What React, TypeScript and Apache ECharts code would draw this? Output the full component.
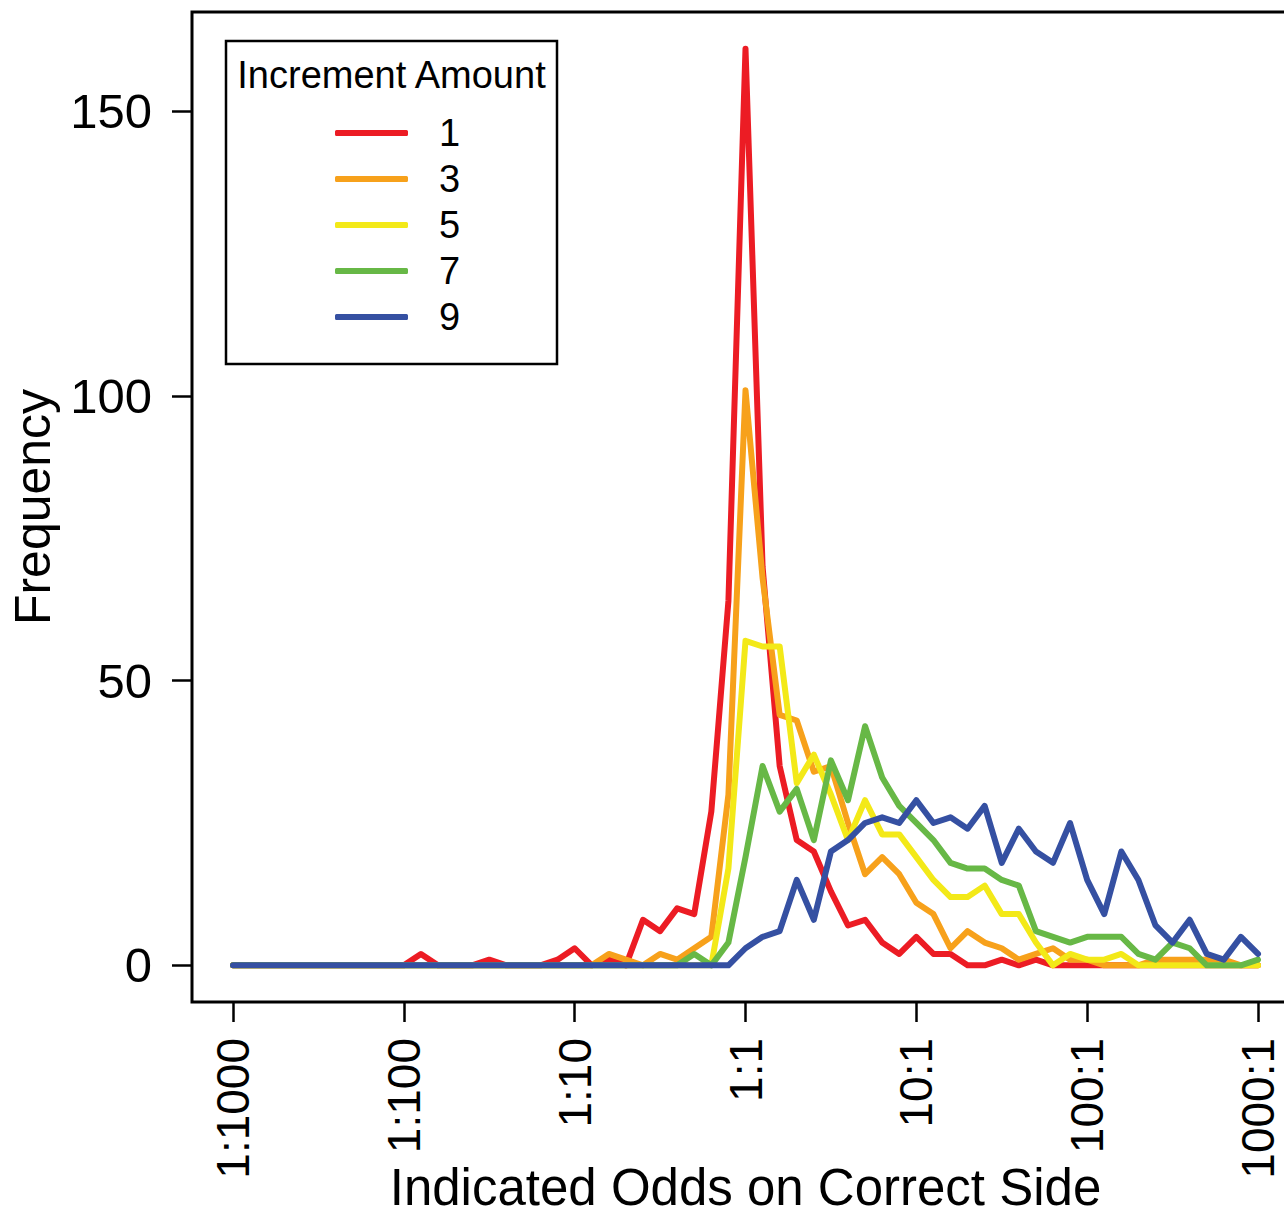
import React, { useEffect, useRef } from "react";
import * as echarts from "echarts";

// Bin centres on a log10 odds scale (1:1000 .. 1000:1), tenth-of-a-decade bins.
const binCenters = [
  -3.0, -2.9, -2.8, -2.7, -2.6, -2.5, -2.4, -2.3, -2.2, -2.1,
  -2.0, -1.9, -1.8, -1.7, -1.6, -1.5, -1.4, -1.3, -1.2, -1.1,
  -1.0, -0.9, -0.8, -0.7, -0.6, -0.5, -0.4, -0.3, -0.2, -0.1,
  0.0, 0.1, 0.2, 0.3, 0.4, 0.5, 0.6, 0.7, 0.8, 0.9,
  1.0, 1.1, 1.2, 1.3, 1.4, 1.5, 1.6, 1.7, 1.8, 1.9,
  2.0, 2.1, 2.2, 2.3, 2.4, 2.5, 2.6, 2.7, 2.8, 2.9,
  3.0,
];

// Frequency per bin for each increment amount.
const freqInc1 = [
  0, 0, 0, 0, 0, 0, 0, 0, 0, 0,
  0, 2, 0, 0, 0, 1, 0, 0, 0, 1,
  3, 0, 1, 0, 8, 6, 10, 9, 27, 64,
  161, 70, 35, 22, 20, 13, 7, 8, 4, 2,
  5, 2, 2, 0, 0, 1, 0, 1, 0, 0,
  0, 0, 0, 0, 0, 0, 0, 0, 0, 0,
  0,
];
const freqInc3 = [
  0, 0, 0, 0, 0, 0, 0, 0, 0, 0,
  0, 0, 0, 0, 0, 0, 0, 0, 0, 0,
  0, 0, 2, 1, 0, 2, 1, 3, 5, 30,
  101, 68, 44, 43, 34, 35, 25, 16, 19, 16,
  11, 9, 3, 6, 4, 3, 1, 2, 3, 1,
  1, 0, 0, 0, 1, 1, 1, 1, 1, 0,
  0,
];
const freqInc5 = [
  0, 0, 0, 0, 0, 0, 0, 0, 0, 0,
  0, 0, 0, 0, 0, 0, 0, 0, 0, 0,
  0, 0, 0, 0, 0, 0, 0, 0, 0, 17,
  57, 56, 56, 32, 37, 30, 22, 29, 23, 23,
  19, 15, 12, 12, 14, 9, 9, 4, 0, 2,
  1, 1, 2, 0, 0, 0, 0, 0, 0, 0,
  0,
];
const freqInc7 = [
  0, 0, 0, 0, 0, 0, 0, 0, 0, 0,
  0, 0, 0, 0, 0, 0, 0, 0, 0, 0,
  0, 0, 0, 0, 0, 0, 0, 2, 0, 4,
  19, 35, 27, 31, 22, 36, 29, 42, 33, 28,
  25, 22, 18, 17, 17, 15, 14, 6, 5, 4,
  5, 5, 5, 2, 1, 4, 3, 0, 0, 0,
  1,
];
const freqInc9 = [
  0, 0, 0, 0, 0, 0, 0, 0, 0, 0,
  0, 0, 0, 0, 0, 0, 0, 0, 0, 0,
  0, 0, 0, 0, 0, 0, 0, 0, 0, 0,
  3, 5, 6, 15, 8, 20, 22, 25, 26, 25,
  29, 25, 26, 24, 28, 18, 24, 20, 18, 25,
  15, 9, 20, 15, 7, 4, 8, 2, 1, 5,
  2,
];

const seriesNames = ["1", "3", "5", "7", "9"];
const seriesColors = ["#EC1C24", "#F7A11B", "#F3E918", "#67B846", "#3550A2"];
const seriesValues = [freqInc1, freqInc3, freqInc5, freqInc7, freqInc9];

const xTickValues = [-3, -2, -1, 0, 1, 2, 3];
const xTickLabels = ["1:1000", "1:100", "1:10", "1:1", "10:1", "100:1", "1000:1"];
const yTickValues = [0, 50, 100, 150];

const FONT = "'Liberation Sans', Arial, Helvetica, sans-serif";

export default function App() {
  const ref = useRef<HTMLDivElement>(null);

  useEffect(() => {
    if (!ref.current) return;
    const chart = echarts.init(ref.current, null, { renderer: "svg" });

    const series = seriesNames.map((name, s) => ({
      name,
      type: "line",
      data: binCenters.map((x, i) => [x, seriesValues[s][i]]),
      showSymbol: false,
      symbol: "none",
      color: seriesColors[s],
      lineStyle: { width: 6, color: seriesColors[s], cap: "round", join: "round" },
      z: 2 + s,
    }));

    chart.setOption({
      animation: false,
      backgroundColor: "#ffffff",
      textStyle: { fontFamily: FONT },
      grid: {
        left: 192,
        top: 12,
        bottom: 210,
        right: -15,
        outerBoundsMode: "none",
        containLabel: false,
        show: true,
        borderColor: "#000",
        borderWidth: 3,
        backgroundColor: "transparent",
      },
      xAxis: {
        type: "value",
        min: -3.24,
        max: 3.24,
        name: "Indicated Odds on Correct Side",
        nameLocation: "middle",
        nameGap: 160,
        nameMoveOverlap: false,
        nameTextStyle: { fontSize: 51, lineHeight: 50, color: "#000", fontFamily: FONT },
        axisLine: { show: false, onZero: false },
        splitLine: { show: false },
        axisTick: {
          show: true,
          customValues: xTickValues,
          length: 20,
          lineStyle: { color: "#000", width: 2.5 },
        },
        axisLabel: {
          customValues: xTickValues,
          rotate: 90,
          margin: 36,
          fontSize: 46,
          color: "#000",
          fontFamily: FONT,
          formatter: (v: number) => {
            const k = xTickValues.indexOf(Math.round(v));
            return k >= 0 ? xTickLabels[k] : "";
          },
        },
      },
      yAxis: {
        type: "value",
        min: -6.44,
        max: 167.44,
        name: "Frequency",
        nameLocation: "middle",
        nameRotate: 90,
        nameGap: 134,
        nameMoveOverlap: false,
        nameTextStyle: { fontSize: 50, color: "#000", fontFamily: FONT },
        axisLine: { show: false, onZero: false },
        splitLine: { show: false },
        axisTick: {
          show: true,
          customValues: yTickValues,
          length: 20,
          lineStyle: { color: "#000", width: 2.5 },
        },
        axisLabel: {
          customValues: yTickValues,
          margin: 40,
          fontSize: 49,
          color: "#000",
          fontFamily: FONT,
        },
      },
      legend: {
        data: seriesNames,
        orient: "vertical",
        left: 335,
        top: 110,
        padding: 0,
        itemGap: 0,
        itemWidth: 73,
        itemHeight: 6,
        icon: "roundRect",
        selectedMode: false,
        textStyle: {
          fontSize: 38,
          lineHeight: 46,
          color: "#000",
          fontFamily: FONT,
          padding: [0, 0, 0, 26],
        },
      },
      graphic: [
        {
          type: "rect",
          shape: { x: 226, y: 41, width: 331, height: 323 },
          style: { fill: "none", stroke: "#000", lineWidth: 2.5 },
          z: 10,
        },
        {
          type: "text",
          x: 391.5,
          y: 75,
          style: {
            text: "Increment Amount",
            fontSize: 38,
            fontFamily: FONT,
            fill: "#000",
            align: "center",
            verticalAlign: "middle",
          },
          z: 10,
        },
      ],
      series,
    });

    return () => chart.dispose();
  }, []);

  return (
    <div
      ref={ref}
      style={{
        position: "absolute",
        left: 0,
        top: 0,
        width: 1284,
        height: 1212,
        overflow: "hidden",
      }}
    />
  );
}
